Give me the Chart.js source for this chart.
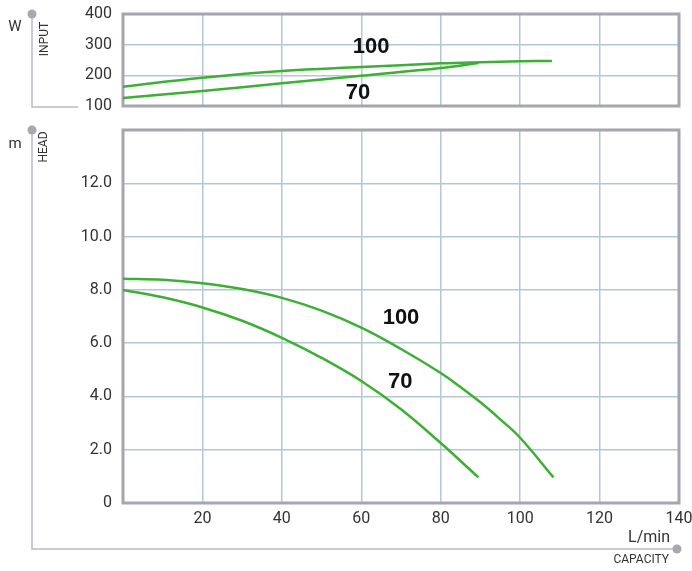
<!DOCTYPE html>
<html lang="en">
<head>
  <meta charset="UTF-8" />
  <title>Pump curve</title>
  <script src="https://cdn.jsdelivr.net/npm/chart.js"></script>
  <style>
    body { margin: 0; background: #fff; }
    #wrap { position: relative; width: 692px; height: 571px; }
    canvas { position: absolute; left: 0; top: 0; }
  </style>
</head>
<body>
<div id="wrap">
  <canvas id="inputChart" width="692" height="120"></canvas>
  <canvas id="headChart" width="692" height="571"></canvas>
</div>

<script>
  // power input (W) vs capacity (L/min)
  const flowPower100 = [0, 20, 40, 60, 80, 90, 100, 108];
  const power100 = [163, 192, 214, 227, 239, 243, 246, 247];
  const flowPower70 = [0, 20, 40, 60, 80, 89.5];
  const power70 = [126, 149, 174, 199, 224, 240];

  // head (m) vs capacity (L/min)
  const flowHead100 = [0, 10, 20, 30, 40, 50, 60, 70, 80, 85, 90, 95, 100, 108.4];
  const head100 = [8.42, 8.38, 8.25, 8.03, 7.7, 7.22, 6.58, 5.78, 4.88, 4.35, 3.78, 3.14, 2.45, 0.96];
  const flowHead70 = [0, 10, 20, 30, 40, 50, 60, 70, 80, 89.5];
  const head70 = [8.0, 7.72, 7.34, 6.84, 6.2, 5.45, 4.58, 3.52, 2.25, 0.96];

  const curveLabels = ['100', '70'];
  const inputTicks = [100, 200, 300, 400];

  const green = '#3cb034';
  const gridColor = '#b3c7d6';
  const frameColor = '#a6a6ae';
  const axisFont = 'Roboto, "Open Sans", sans-serif';

  function pts(xs, ys) {
    return xs.map((x, i) => ({ x: x, y: ys[i] }));
  }

  function curve(data) {
    return {
      data: data,
      borderColor: green,
      borderWidth: 2.5,
      pointRadius: 0,
      fill: false,
      tension: 0.4
    };
  }

  // frame around plot area + curve numbers
  function framePlugin(labelPos) {
    return {
      id: 'frame',
      beforeDatasetsDraw(chart) {
        const a = chart.chartArea, ctx = chart.ctx;
        ctx.save();
        ctx.strokeStyle = frameColor;
        ctx.lineWidth = 3;
        ctx.strokeRect(a.left, a.top, a.right - a.left, a.bottom - a.top);
        ctx.restore();
      },
      afterDatasetsDraw(chart) {
        const ctx = chart.ctx, xs = chart.scales.x, ys = chart.scales.y;
        ctx.save();
        ctx.fillStyle = '#111';
        ctx.font = 'bold 22px "Liberation Sans", Arial, sans-serif';
        ctx.textAlign = 'center';
        ctx.textBaseline = 'middle';
        labelPos.forEach((p, i) => {
          ctx.fillText(curveLabels[i], xs.getPixelForValue(p[0]), ys.getPixelForValue(p[1]));
        });
        ctx.restore();
      }
    };
  }

  function dot(ctx, x, y) {
    ctx.beginPath();
    ctx.arc(x, y, 4.5, 0, Math.PI * 2);
    ctx.fill();
  }

  function vText(ctx, txt, x, y, size) {
    ctx.save();
    ctx.translate(x, y);
    ctx.rotate(-Math.PI / 2);
    ctx.font = size + 'px ' + axisFont;
    ctx.textAlign = 'center';
    ctx.textBaseline = 'middle';
    ctx.fillText(txt, 0, 0);
    ctx.restore();
  }

  const inputDeco = {
    id: 'inputDeco',
    afterDraw(chart) {
      const ctx = chart.ctx;
      ctx.save();
      ctx.strokeStyle = '#b9b9c1';
      ctx.fillStyle = '#a8a8b0';
      ctx.lineWidth = 1.5;
      ctx.beginPath();
      ctx.moveTo(32, 14);
      ctx.lineTo(32, 107);
      ctx.lineTo(78, 107);
      ctx.stroke();
      dot(ctx, 32, 14);
      ctx.fillStyle = '#333';
      ctx.font = '15px ' + axisFont;
      ctx.textAlign = 'center';
      ctx.textBaseline = 'middle';
      ctx.fillText('W', 15, 27);
      vText(ctx, 'INPUT', 45, 39, 12);
      ctx.restore();
    }
  };

  const headDeco = {
    id: 'headDeco',
    afterDraw(chart) {
      const ctx = chart.ctx;
      ctx.save();
      ctx.strokeStyle = '#b9b9c1';
      ctx.fillStyle = '#a8a8b0';
      ctx.lineWidth = 1.5;
      ctx.beginPath();
      ctx.moveTo(32, 130);
      ctx.lineTo(32, 549);
      ctx.lineTo(677, 549);
      ctx.stroke();
      dot(ctx, 32, 130);
      dot(ctx, 677, 549);
      ctx.fillStyle = '#333';
      ctx.font = '15px ' + axisFont;
      ctx.textAlign = 'center';
      ctx.textBaseline = 'middle';
      ctx.fillText('m', 15, 144);
      vText(ctx, 'HEAD', 44, 147, 12);
      ctx.textAlign = 'right';
      ctx.font = '16px ' + axisFont;
      ctx.fillText('L/min', 670, 538);
      ctx.font = '12px ' + axisFont;
      ctx.fillText('CAPACITY', 669, 560);
      ctx.restore();
    }
  };

  function noPad(s) {
    s.paddingLeft = 0;
    s.paddingRight = 0;
    s.paddingTop = 0;
    s.paddingBottom = 0;
  }

  const xScale = (showLabels, h) => ({
    type: 'linear',
    min: 0,
    max: 140,
    ticks: {
      display: showLabels,
      stepSize: 20,
      padding: 6,
      color: '#333',
      font: { family: axisFont, size: 16 },
      callback: v => (v === 0 ? '' : String(v))
    },
    grid: { color: gridColor, lineWidth: 1.5, drawTicks: false },
    border: { display: false },
    afterFit: s => { s.height = h; noPad(s); }
  });

  const yScale = (min, max, extra) => Object.assign({
    type: 'linear',
    min: min,
    max: max,
    grid: { color: gridColor, lineWidth: 1.5, drawTicks: false },
    border: { display: false },
    afterFit: s => { s.width = 123; noPad(s); }
  }, extra);

  // top chart: power input
  new Chart(document.getElementById('inputChart'), {
    type: 'line',
    data: {
      datasets: [curve(pts(flowPower100, power100)), curve(pts(flowPower70, power70))]
    },
    options: {
      responsive: false,
      animation: false,
      layout: { padding: { left: 0, right: 13, top: 14, bottom: 14 } },
      plugins: { legend: { display: false }, tooltip: { enabled: false } },
      scales: {
        x: xScale(false, 0),
        y: yScale(inputTicks[0], inputTicks[inputTicks.length - 1], {
          afterBuildTicks: s => { s.ticks = inputTicks.map(v => ({ value: v })); },
          ticks: { padding: 11, color: '#333', font: { family: axisFont, size: 16 } }
        })
      }
    },
    plugins: [framePlugin([[62.5, 292], [59.2, 142]]), inputDeco]
  });

  // main chart: head
  new Chart(document.getElementById('headChart'), {
    type: 'line',
    data: {
      datasets: [curve(pts(flowHead100, head100)), curve(pts(flowHead70, head70))]
    },
    options: {
      responsive: false,
      animation: false,
      layout: { padding: { left: 0, right: 13, top: 130, bottom: 38 } },
      plugins: { legend: { display: false }, tooltip: { enabled: false } },
      scales: {
        x: xScale(true, 30),
        y: yScale(0, 14, {
          ticks: {
            stepSize: 2,
            padding: 11,
            color: '#333',
            font: { family: axisFont, size: 16 },
            callback: v => (v === 0 ? '0' : v === 14 ? '' : v.toFixed(1))
          }
        })
      }
    },
    plugins: [framePlugin([[70, 6.95], [69.8, 4.55]]), headDeco]
  });
</script>
</body>
</html>
